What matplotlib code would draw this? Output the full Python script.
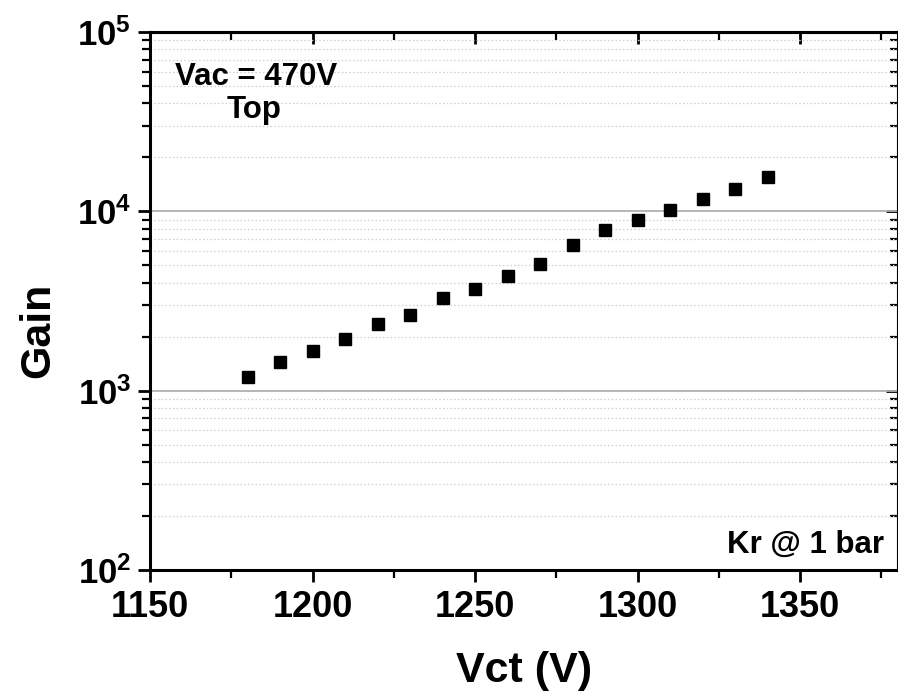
import numpy as np
import matplotlib
matplotlib.use("Agg")
import matplotlib.pyplot as plt
from matplotlib.ticker import FixedLocator, FuncFormatter, NullFormatter, LogLocator, MultipleLocator

plt.rcParams['font.family'] = ['Liberation Sans', 'DejaVu Sans']
plt.rcParams['font.weight'] = 'bold'
plt.rcParams['mathtext.fontset'] = 'custom'
plt.rcParams['mathtext.bf'] = 'Liberation Sans:bold'
plt.rcParams['mathtext.rm'] = 'Liberation Sans:bold'

# Data
vct = [1180, 1190, 1200, 1210, 1220, 1230, 1240, 1250, 1260, 1270,
       1280, 1290, 1300, 1310, 1320, 1330, 1340]
gain = [1198, 1447, 1667, 1946, 2339, 2652, 3302, 3675, 4345, 5117,
        6479, 7829, 8982, 10130, 11674, 13283, 15631]

x_ticks = [1150, 1200, 1250, 1300, 1350]
y_ticks = [1e2, 1e3, 1e4, 1e5]

W, H = 898, 694
fig = plt.figure(figsize=(W / 100, H / 100), dpi=100)
ax = fig.add_axes([150 / W, 1 - 570 / H, (897.5 - 150) / W, (570 - 32) / H])

ax.set_yscale('log')
ax.set_xlim(1150, 1380)
ax.set_ylim(1e2, 1e5)

ax.plot(vct, gain, linestyle='none', marker='s', markersize=8.6,
        color='black', zorder=3)

# grid
ax.yaxis.set_major_locator(FixedLocator(y_ticks))
ax.yaxis.set_minor_locator(LogLocator(base=10, subs=np.arange(2, 10)))
ax.yaxis.set_major_formatter(FuncFormatter(lambda v, p: r'$\mathbf{10^{%d}}$' % round(np.log10(v))))
ax.yaxis.set_minor_formatter(NullFormatter())
ax.xaxis.set_major_locator(FixedLocator(x_ticks))
ax.xaxis.set_minor_locator(MultipleLocator(25))
ax.grid(axis='y', which='major', color='#b0b0b0', linewidth=1.3, linestyle='-')
ax.grid(axis='y', which='minor', color='#cfcfcf', linewidth=0.9, linestyle=(0, (1.2, 1.8)))
ax.set_axisbelow(True)

for s in ax.spines.values():
    s.set_linewidth(2.2)

ax.tick_params(axis='both', which='major', direction='out', length=8.5, width=2.0,
               labelsize=26, pad=6)
ax.tick_params(axis='y', which='major', labelsize=25, pad=5)
ax.tick_params(axis='both', which='minor', direction='out', length=5.5, width=1.6)
ax.tick_params(top=False, right=False, which='both')

# mirrored inward ticks on top and right
secx = ax.secondary_xaxis('top')
secx.xaxis.set_major_locator(FixedLocator(x_ticks))
secx.xaxis.set_minor_locator(MultipleLocator(25))
secx.tick_params(which='major', direction='in', length=8.5, width=2.0, labeltop=False)
secx.tick_params(which='minor', direction='in', length=5.5, width=1.6)
secx.spines['top'].set_linewidth(2.2)

secy = ax.secondary_yaxis('right')
secy.yaxis.set_major_locator(FixedLocator(y_ticks))
secy.yaxis.set_minor_locator(LogLocator(base=10, subs=np.arange(2, 10)))
secy.tick_params(which='major', direction='in', length=8.5, width=2.0, labelright=False)
secy.tick_params(which='minor', direction='in', length=5.5, width=1.6, labelright=False)
secy.yaxis.set_minor_formatter(NullFormatter())
secy.spines['right'].set_linewidth(2.2)

# labels
fig.text(524 / W, 1 - 671 / H, 'Vct (V)', fontsize=31, fontweight='bold',
         ha='center', va='center')
fig.text(38 / W, 1 - 330 / H, 'Gain', fontsize=31, fontweight='bold',
         rotation=90, ha='center', va='center')

# annotations
fig.text(175 / W, 1 - 85 / H, 'Vac = 470V', fontsize=22.5, fontweight='bold',
         ha='left', va='baseline')
fig.text(227 / W, 1 - 118 / H, 'Top', fontsize=22.5, fontweight='bold',
         ha='left', va='baseline')
fig.text(884 / W, 1 - 553 / H, 'Kr @ 1 bar', fontsize=22.5, fontweight='bold',
         ha='right', va='baseline')

fig.savefig('out.png', dpi=100)
